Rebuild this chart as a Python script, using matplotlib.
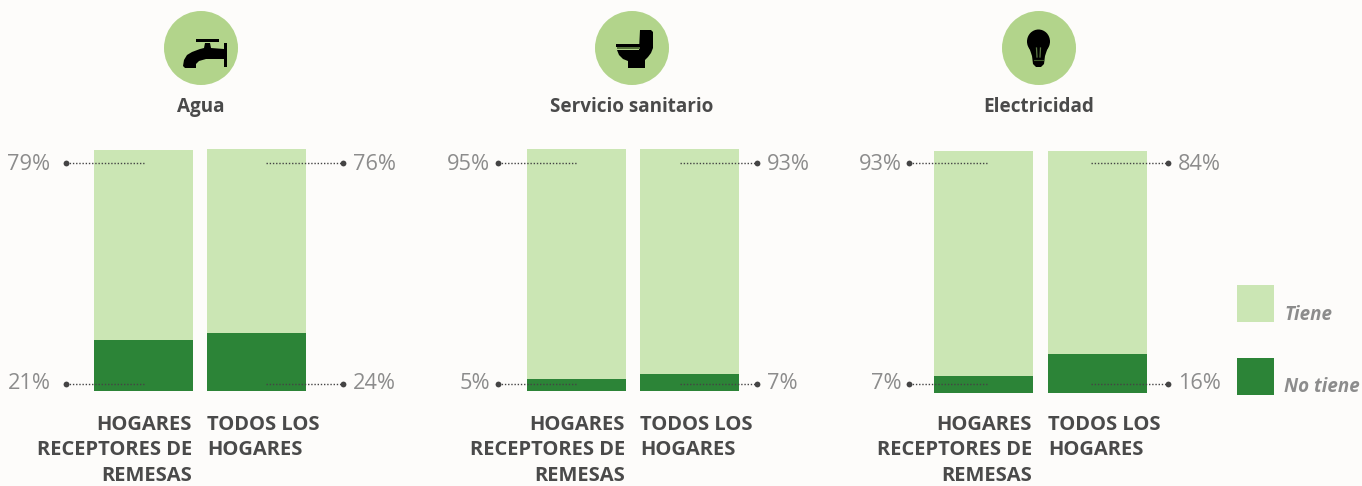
import matplotlib
matplotlib.use("Agg")
import matplotlib.pyplot as plt
from matplotlib.patches import Circle, Polygon, Ellipse, Rectangle

FONT = ["Open Sans", "Noto Sans", "DejaVu Sans"]
plt.rcParams["font.family"] = FONT

# ---- data ----
panels = ["Agua", "Servicio sanitario", "Electricidad"]
households = ["HOGARES\nRECEPTORES DE\nREMESAS", "TODOS LOS\nHOGARES"]
tiene_agua = [79, 76]
no_tiene_agua = [21, 24]
tiene_sanitario = [95, 93]
no_tiene_sanitario = [5, 7]
tiene_electricidad = [93, 84]
no_tiene_electricidad = [7, 16]
legend_labels = ["Tiene", "No tiene"]

LIGHT = "#CBE6B4"
DARK = "#2C8437"
CIRCLE = "#B2D48B"
BG = "#FDFCFA"
GREY = "#8C8C8C"
TXT = "#4A4A4A"
W, H = 1362, 486

fig = plt.figure(figsize=(W / 100, H / 100), dpi=100, facecolor=BG)

# overlay in pixel coordinates for annotations
ov = fig.add_axes([0, 0, 1, 1], zorder=5)
ov.set_xlim(0, W)
ov.set_ylim(H, 0)
ov.axis("off")
ov.patch.set_alpha(0)

layout = [
    dict(x0=94, x1=207, top=(150, 149), bottom=391, cx=201, head_y=105,
         tiene=tiene_agua, no=no_tiene_agua, title=panels[0],
         dotl=66, endl=144, startr=266, dotr=343, lx=50.5, rx=353, yb=384),
    dict(x0=527, x1=640, top=(149, 149), bottom=391, cx=632, head_y=105,
         tiene=tiene_sanitario, no=no_tiene_sanitario, title=panels[1],
         dotl=498, endl=577, startr=680, dotr=757, lx=490.5, rx=767, yb=384),
    dict(x0=934, x1=1048, top=(151, 151), bottom=393, cx=1039, head_y=105,
         tiene=tiene_electricidad, no=no_tiene_electricidad, title=panels[2],
         dotl=909, endl=987, startr=1091, dotr=1168, lx=901.5, rx=1178, yb=384),
]
BW = 99
LINE_Y = (425, 450.4, 475.8)

for p in layout:
    # one axes per bar so that each keeps its own pixel top, values scale 0-100
    for i, x in enumerate((p["x0"], p["x1"])):
        top, bot = p["top"][i], p["bottom"]
        ax = fig.add_axes([x / W, 1 - bot / H, BW / W, (bot - top) / H], zorder=2)
        ax.bar([0], [p["no"][i]], width=1, color=DARK)
        ax.bar([0], [p["tiene"][i]], width=1, bottom=[p["no"][i]], color=LIGHT)
        ax.set_xlim(-0.5, 0.5)
        ax.set_ylim(0, 100)
        ax.axis("off")

    for y, (lv, rv) in ((163, (p["tiene"][0], p["tiene"][1])), (p["yb"], (p["no"][0], p["no"][1]))):
        for a, b, d in ((p["dotl"], p["endl"], p["dotl"]), (p["startr"], p["dotr"], p["dotr"])):
            ov.plot([a, b], [y, y], color="#444444", lw=1.0, ls=(0, (1, 1.3)), solid_capstyle="butt")
            ov.plot([d], [y], "o", color="#444444", ms=4.2, mew=0)
        ty = y + 1 if y == 163 else y - 0.5
        ov.text(p["lx"], ty, f"{lv}%", ha="right", va="center", color=GREY, fontsize=15.7)
        ov.text(p["rx"], ty, f"{rv}%", ha="left", va="center", color=GREY, fontsize=15.7)

    ov.text(p["cx"], p["head_y"] + 1.5, p["title"], ha="center", va="center", color=TXT,
            fontsize=13.6, fontweight="bold")
    ov.add_patch(Circle((p["cx"], 48), 37, fc=CIRCLE, ec="none"))

    xr = p["x0"] + BW - 1
    for k, line in enumerate(households[0].split("\n")):
        ov.text(xr, LINE_Y[k], line, ha="right", va="center", color=TXT, fontsize=14.5, fontweight="bold")
    for k, line in enumerate(households[1].split("\n")):
        ov.text(p["x1"], LINE_Y[k], line, ha="left", va="center", color=TXT, fontsize=14.5, fontweight="bold")

# tap icon
ov.add_patch(Polygon([(183, 66), (184, 60), (187, 55), (192, 52), (200, 49), (204, 48), (205, 43), (210, 43),
                      (211, 48), (224, 49), (224, 59), (206, 59), (199, 61), (196, 64), (196, 68), (185, 68)],
                     fc="black", ec="none"))
ov.add_patch(Rectangle((223.5, 43), 3, 24, fc="black", ec="none"))
ov.add_patch(Rectangle((196, 39), 23, 3.5, fc="black", ec="none"))

# toilet icon
ov.add_patch(Polygon([(640, 30), (651, 30), (653, 32), (653, 48), (651, 53), (648, 57), (645, 60),
                      (645, 68), (628, 68), (628, 61), (623, 59), (619, 55), (617, 50), (639, 50)],
                     fc="black", ec="none"))
ov.add_patch(Rectangle((616, 44), 26, 3.3, fc="black", ec="none"))
ov.add_patch(Rectangle((617, 47.5), 23, 1.6, fc="#54713A", ec="none"))

# bulb icon
ov.add_patch(Ellipse((1038.5, 41.5), 23, 24, fc="black", ec="none"))
ov.add_patch(Polygon([(1029, 47), (1048, 47), (1045, 56), (1044, 64), (1041, 67), (1036, 67),
                      (1033, 64), (1032, 56)], fc="black", ec="none"))
ov.plot([1036.5, 1037], [48, 57], color="#5C7A44", lw=0.9)
ov.plot([1040.5, 1040], [48, 57], color="#5C7A44", lw=0.9)
ov.plot([1034, 1043], [60, 60], color="#3F5A2C", lw=0.8)

# legend
for y0, col, lab, ty in ((285, LIGHT, legend_labels[0], 314.5), (358, DARK, legend_labels[1], 386.5)):
    ov.add_patch(Rectangle((1237, y0), 37, 37, fc=col, ec="none"))
    ov.text(1284.5, ty, lab, ha="left", va="center", color=GREY, fontsize=13.5,
            fontweight="bold", fontstyle="italic")

fig.savefig("out.png", dpi=100, facecolor=BG)
